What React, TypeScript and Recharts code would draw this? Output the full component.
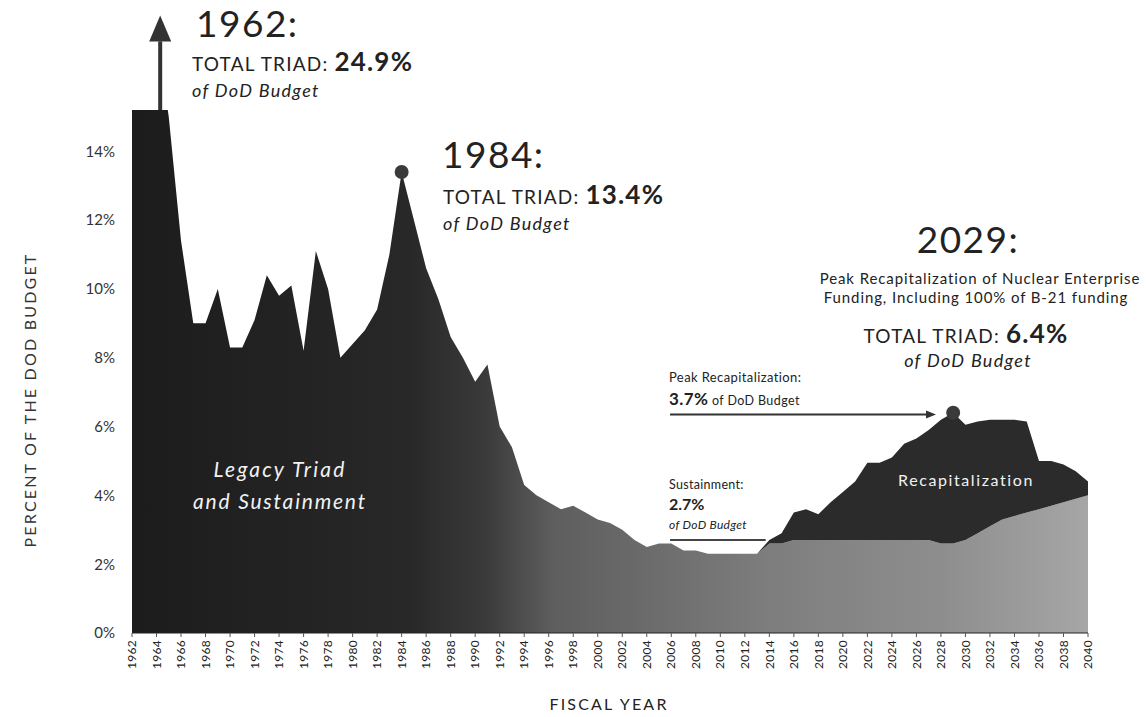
import React from "react";
import {
  AreaChart,
  Area,
  XAxis,
  YAxis,
  ReferenceDot,
  ReferenceLine,
} from "recharts";

const years = [
  1962, 1963, 1964, 1965, 1966, 1967, 1968, 1969, 1970, 1971, 1972, 1973, 1974,
  1975, 1976, 1977, 1978, 1979, 1980, 1981, 1982, 1983, 1984, 1985, 1986, 1987,
  1988, 1989, 1990, 1991, 1992, 1993, 1994, 1995, 1996, 1997, 1998, 1999, 2000,
  2001, 2002, 2003, 2004, 2005, 2006, 2007, 2008, 2009, 2010, 2011, 2012, 2013,
  2014, 2015, 2016, 2017, 2018, 2019, 2020, 2021, 2022, 2023, 2024, 2025, 2026,
  2027, 2028, 2029, 2030, 2031, 2032, 2033, 2034, 2035, 2036, 2037, 2038, 2039,
  2040,
];

// legacy triad + sustainment (bottom layer)
const baseShare = [
  24.9, 21.0, 17.5, 15.0, 11.4, 9.0, 9.0, 10.0, 8.3, 8.3, 9.1, 10.4, 9.8,
  10.1, 8.2, 11.1, 10.0, 8.0, 8.4, 8.8, 9.4, 11.0, 13.4, 12.0, 10.6, 9.7,
  8.6, 8.0, 7.3, 7.8, 6.0, 5.4, 4.3, 4.0, 3.8, 3.6, 3.7, 3.5, 3.3,
  3.2, 3.0, 2.7, 2.5, 2.6, 2.6, 2.4, 2.4, 2.3, 2.3, 2.3, 2.3, 2.3,
  2.6, 2.6, 2.7, 2.7, 2.7, 2.7, 2.7, 2.7, 2.7, 2.7, 2.7, 2.7, 2.7,
  2.7, 2.6, 2.6, 2.7, 2.9, 3.1, 3.3, 3.4, 3.5, 3.6, 3.7, 3.8, 3.9,
  4.0,
];

// recapitalization (stacked on top)
const recapYears = [
  2013, 2014, 2015, 2016, 2017, 2018, 2019, 2020, 2021, 2022, 2023, 2024, 2025,
  2026, 2027, 2028, 2029, 2030, 2031, 2032, 2033, 2034, 2035, 2036, 2037, 2038,
  2039, 2040,
];
const recapShare = [
  0, 0.1, 0.3, 0.8, 0.9, 0.75, 1.1, 1.4, 1.7, 2.25, 2.25, 2.4, 2.8,
  2.95, 3.2, 3.6, 3.8, 3.35, 3.25, 3.1, 2.9, 2.8, 2.65, 1.4, 1.3, 1.1,
  0.8, 0.4,
];

const xTicks = [
  1962, 1964, 1966, 1968, 1970, 1972, 1974, 1976, 1978, 1980, 1982, 1984, 1986,
  1988, 1990, 1992, 1994, 1996, 1998, 2000, 2002, 2004, 2006, 2008, 2010, 2012,
  2014, 2016, 2018, 2020, 2022, 2024, 2026, 2028, 2030, 2032, 2034, 2036, 2038,
  2040,
];
const yTicks = [0, 2, 4, 6, 8, 10, 12, 14];

const table = years.map((year, i) => {
  const r = recapYears.indexOf(year);
  return { year, base: baseShare[i], recap: r >= 0 ? recapShare[r] : null };
});

const FONT = "Lato, 'Open Sans', sans-serif";

const makeArrow = (width: number, headLen: number, headW: number) => (p: any) => {
  const { x1, y1, x2, y2 } = p;
  const ang = Math.atan2(y2 - y1, x2 - x1);
  const c = Math.cos(ang);
  const s = Math.sin(ang);
  const bx = x2 - headLen * c;
  const by = y2 - headLen * s;
  const pts = `${x2},${y2} ${bx - headW * s},${by + headW * c} ${bx + headW * s},${by - headW * c}`;
  return (
    <g>
      <line x1={x1} y1={y1} x2={bx} y2={by} stroke="#333" strokeWidth={width} />
      <polygon points={pts} fill="#333" />
    </g>
  );
};

const XTick = (props: any) => {
  const { x, y, payload } = props;
  return (
    <text
      x={x}
      y={y}
      transform={`rotate(-90 ${x} ${y})`}
      textAnchor="end"
      dy="0.35em"
      fontFamily={FONT}
      fontSize={12}
      letterSpacing={0.3}
      fill="#222"
    >
      {payload.value}
    </text>
  );
};

export default function App() {
  return (
    <div
      style={{
        position: "absolute",
        left: 0,
        top: 0,
        width: 1147,
        height: 717,
        background: "#fff",
      }}
    >
      <AreaChart
        width={1147}
        height={717}
        data={table}
        margin={{ top: 110, right: 59, bottom: 34, left: 0 }}
      >
        <defs>
          <linearGradient id="legacyFill" x1="0" y1="0" x2="1" y2="0">
            <stop offset="0" stopColor="#1c1c1c" />
            <stop offset="0.29" stopColor="#282828" />
            <stop offset="0.37" stopColor="#3a3a3a" />
            <stop offset="0.44" stopColor="#5e5e5e" />
            <stop offset="0.56" stopColor="#6e6e6e" />
            <stop offset="0.67" stopColor="#7e7e7e" />
            <stop offset="0.85" stopColor="#8e8e8e" />
            <stop offset="1" stopColor="#a6a6a6" />
          </linearGradient>
        </defs>
        <XAxis
          dataKey="year"
          type="number"
          domain={[1962, 2040]}
          ticks={xTicks}
          interval={0}
          height={50}
          tick={<XTick />}
          tickSize={4}
          tickMargin={3}
          axisLine={{ stroke: "#222" }}
          tickLine={{ stroke: "#555" }}
        />
        <YAxis
          type="number"
          domain={[0, 15.2]}
          allowDataOverflow
          ticks={yTicks}
          width={132}
          tickSize={0}
          tickMargin={17}
          axisLine={false}
          tickFormatter={(v) => `${v}%`}
          tick={{ fontFamily: FONT, fontSize: 15, fill: "#333" }}
        />
        <Area
          type="linear"
          dataKey="base"
          stackId="1"
          stroke="none"
          fill="url(#legacyFill)"
          fillOpacity={1}
          isAnimationActive={false}
        />
        <Area
          type="linear"
          dataKey="recap"
          stackId="1"
          stroke="none"
          fill="#2b2b2b"
          fillOpacity={1}
          isAnimationActive={false}
        />
        <ReferenceLine
          segment={[
            { x: 1964.3, y: 15.2 },
            { x: 1964.3, y: 17.95 },
          ]}
          ifOverflow="visible"
          shape={makeArrow(4, 26, 11)}
        />
        <ReferenceLine
          segment={[
            { x: 2005.9, y: 6.35 },
            { x: 2027.6, y: 6.35 },
          ]}
          ifOverflow="visible"
          shape={makeArrow(2, 10, 4)}
        />
        <ReferenceLine
          segment={[
            { x: 2005.9, y: 2.7 },
            { x: 2013.7, y: 2.7 },
          ]}
          ifOverflow="visible"
          stroke="#444"
          strokeWidth={2}
        />
        <ReferenceDot x={1984} y={13.4} r={7} fill="#3a3a3a" stroke="none" />
        <ReferenceDot x={2029} y={6.4} r={7} fill="#3a3a3a" stroke="none" />
      </AreaChart>

      <svg
        width={1147}
        height={717}
        style={{ position: "absolute", left: 0, top: 0, pointerEvents: "none" }}
        fontFamily={FONT}
      >
        <text
          transform="rotate(-90 30 400)"
          x={30}
          y={400}
          textAnchor="middle"
          dy="0.35em"
          fontSize={16}
          fill="#333"
          letterSpacing={2.2}
        >
          PERCENT OF THE DOD BUDGET
        </text>
        <text x={609} y={710} textAnchor="middle" fontSize={16} fill="#222" letterSpacing={2.2}>
          FISCAL YEAR
        </text>

        <text x={196} y={37} fontSize={37} fill="#222" letterSpacing={1.5}>1962:</text>
        <text x={192} y={71} fontSize={19} fill="#222" letterSpacing={1.2}>
          TOTAL TRIAD: <tspan fontSize={26} fontWeight="bold">24.9%</tspan>
        </text>
        <text x={192} y={97} fontSize={18} fontStyle="italic" fill="#222" letterSpacing={1.3}>
          of DoD Budget
        </text>

        <text x={442} y={168} fontSize={37} fill="#222" letterSpacing={1.5}>1984:</text>
        <text x={443} y={204} fontSize={19} fill="#222" letterSpacing={1.2}>
          TOTAL TRIAD: <tspan fontSize={26} fontWeight="bold">13.4%</tspan>
        </text>
        <text x={443} y={230} fontSize={18} fontStyle="italic" fill="#222" letterSpacing={1.3}>
          of DoD Budget
        </text>

        <text x={968} y={253} textAnchor="middle" fontSize={37} fill="#222" letterSpacing={1.5}>
          2029:
        </text>
        <text x={980} y={284} textAnchor="middle" fontSize={15} fill="#222" letterSpacing={0.9}>
          Peak Recapitalization of Nuclear Enterprise
        </text>
        <text x={976} y={303} textAnchor="middle" fontSize={15} fill="#222" letterSpacing={0.9}>
          Funding, Including 100% of B-21 funding
        </text>
        <text x={966} y={343} textAnchor="middle" fontSize={19} fill="#222" letterSpacing={1.2}>
          TOTAL TRIAD: <tspan fontSize={26} fontWeight="bold">6.4%</tspan>
        </text>
        <text
          x={968}
          y={367}
          textAnchor="middle"
          fontSize={18}
          fontStyle="italic"
          fill="#222"
          letterSpacing={1.3}
        >
          of DoD Budget
        </text>

        <text x={669} y={382} fontSize={13} fill="#222" letterSpacing={0.4}>
          Peak Recapitalization:
        </text>
        <text x={669} y={405} fontSize={12.5} fill="#222" letterSpacing={0.4}>
          <tspan fontSize={17} fontWeight="bold">3.7%</tspan> of DoD Budget
        </text>

        <text x={669} y={489} fontSize={12.5} fill="#222" letterSpacing={0.3}>Sustainment:</text>
        <text x={669} y={510} fontSize={16} fontWeight="bold" fill="#222">2.7%</text>
        <text x={669} y={529} fontSize={12} fontStyle="italic" fill="#222" letterSpacing={0.3}>
          of DoD Budget
        </text>

        <text
          x={280}
          y={477}
          textAnchor="middle"
          fontSize={21}
          fontStyle="italic"
          fill="#f2f2f2"
          letterSpacing={2.2}
        >
          Legacy Triad
        </text>
        <text
          x={280}
          y={509}
          textAnchor="middle"
          fontSize={21}
          fontStyle="italic"
          fill="#f2f2f2"
          letterSpacing={1.8}
        >
          and Sustainment
        </text>
        <text x={966} y={486} textAnchor="middle" fontSize={16} fill="#f2f2f2" letterSpacing={1.6}>
          Recapitalization
        </text>
      </svg>
    </div>
  );
}
